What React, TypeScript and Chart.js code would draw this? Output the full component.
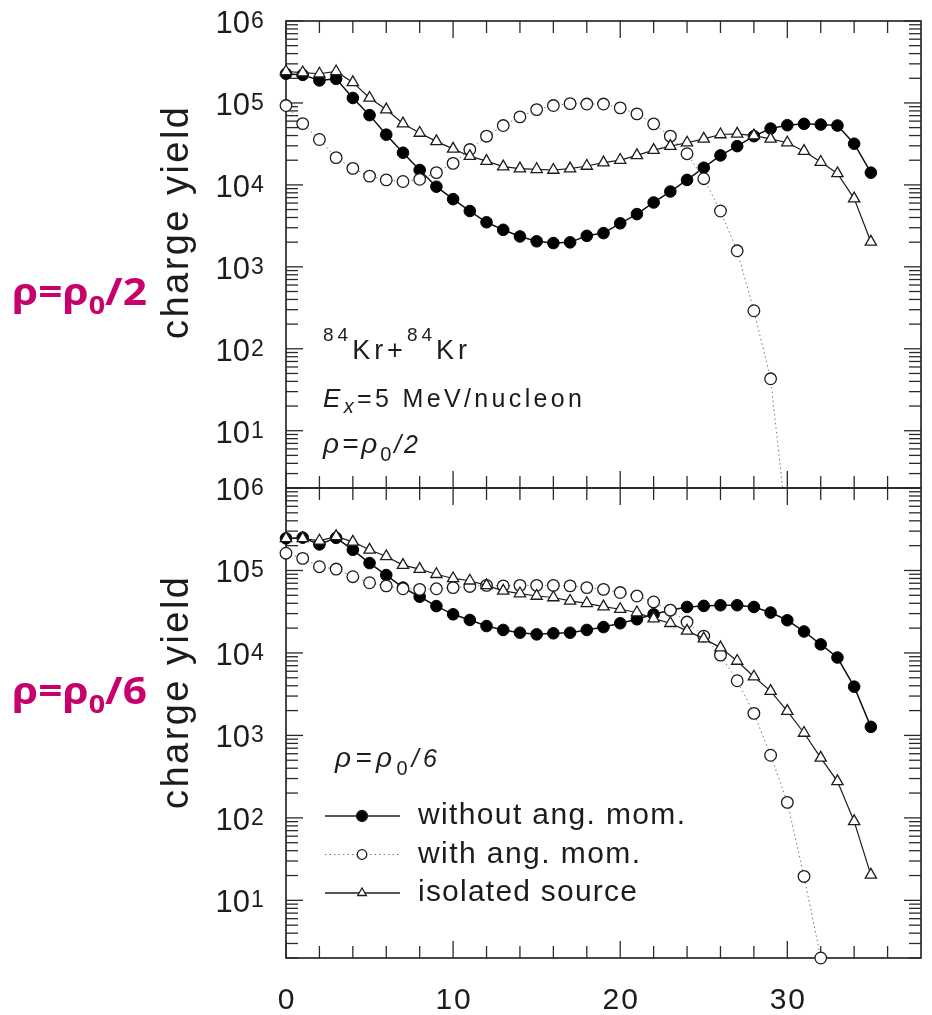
import React, { useEffect, useRef } from 'react';
import { Chart, registerables } from 'chart.js';

Chart.register(...registerables);

// ---------------- data ----------------
const chargeZ = [0, 1, 2, 3, 4, 5, 6, 7, 8, 9, 10, 11, 12, 13, 14, 15, 16, 17, 18, 19, 20, 21, 22, 23, 24, 25, 26, 27, 28, 29, 30, 31, 32, 33, 34, 35];

// rho = rho0/2 panel
const topWithoutAngMom = [2.27e5, 2.2e5, 1.88e5, 1.97e5, 1.15e5, 7.1e4, 4.1e4, 2.47e4, 1.52e4, 9.5e3, 6.7e3, 4.8e3, 3.5e3, 2.83e3, 2.35e3, 2.05e3, 1.95e3, 1.99e3, 2.39e3, 2.58e3, 3.4e3, 4.4e3, 6.1e3, 8.3e3, 1.15e4, 1.62e4, 2.29e4, 2.97e4, 3.93e4, 4.87e4, 5.35e4, 5.56e4, 5.45e4, 5.3e4, 3.18e4, 1.41e4];
const topWithAngMom = [9.3e4, 5.6e4, 3.58e4, 2.15e4, 1.59e4, 1.28e4, 1.15e4, 1.1e4, 1.17e4, 1.41e4, 1.83e4, 2.7e4, 3.93e4, 5.3e4, 6.76e4, 8.3e4, 9.3e4, 9.8e4, 9.7e4, 9.7e4, 8.7e4, 7.35e4, 5.56e4, 3.93e4, 2.4e4, 1.19e4, 4.8e3, 1.57e3, 291, 43, 0.6];
const topIsolated = [2.42e5, 2.35e5, 2.27e5, 2.42e5, 1.78e5, 1.15e5, 8.3e4, 5.6e4, 4.3e4, 3.4e4, 2.75e4, 2.24e4, 1.95e4, 1.67e4, 1.58e4, 1.55e4, 1.52e4, 1.58e4, 1.7e4, 1.87e4, 2.01e4, 2.29e4, 2.66e4, 2.97e4, 3.27e4, 3.65e4, 4.12e4, 4.2e4, 4.0e4, 3.65e4, 3.27e4, 2.58e4, 1.9e4, 1.38e4, 6.8e3, 2.02e3];

// rho = rho0/6 panel
const botWithoutAngMom = [2.45e5, 2.5e5, 2.07e5, 2.49e5, 1.78e5, 1.23e5, 8.8e4, 6.2e4, 4.8e4, 3.7e4, 2.94e4, 2.51e4, 2.12e4, 1.9e4, 1.76e4, 1.68e4, 1.73e4, 1.76e4, 1.9e4, 2.06e4, 2.29e4, 2.56e4, 2.94e4, 3.3e4, 3.61e4, 3.72e4, 3.79e4, 3.79e4, 3.61e4, 3.09e4, 2.49e4, 1.82e4, 1.27e4, 8.8e3, 3.9e3, 1.27e3];
const botWithAngMom = [1.62e5, 1.4e5, 1.11e5, 1.04e5, 8.4e4, 7.1e4, 6.5e4, 6.0e4, 5.9e4, 6.0e4, 6.2e4, 6.4e4, 6.6e4, 6.5e4, 6.6e4, 6.6e4, 6.6e4, 6.5e4, 6.2e4, 5.9e4, 5.4e4, 4.9e4, 4.15e4, 3.3e4, 2.37e4, 1.6e4, 9.4e3, 4.6e3, 1.85e3, 575, 154, 19.5, 2.0];
const botIsolated = [2.45e5, 2.45e5, 2.29e5, 2.59e5, 2.22e5, 1.78e5, 1.48e5, 1.16e5, 1.04e5, 9.0e4, 8.0e4, 7.5e4, 6.6e4, 5.65e4, 5.25e4, 4.9e4, 4.7e4, 4.27e4, 4.0e4, 3.65e4, 3.39e4, 3.09e4, 2.61e4, 2.29e4, 1.85e4, 1.49e4, 1.16e4, 7.98e3, 5.15e3, 3.44e3, 1.97e3, 1.07e3, 535, 277, 90.6, 20.4];

// ticks / labels
const xMajorTicks = [0, 10, 20, 30];
const xTickLabels = ['0', '10', '20', '30'];
const xMinorTicks = [2, 4, 6, 8, 12, 14, 16, 18, 22, 24, 26, 28, 32, 34, 36];
const yDecades = [1, 10, 100, 1000, 10000, 100000, 1000000];
const yMinorMultipliers = [2, 3, 4, 5, 6, 7, 8, 9];
const yLabelDecades = [10, 100, 1000, 10000, 100000, 1000000];
const yLabelExponents = ['1', '2', '3', '4', '5', '6'];
const seriesLabels = ['without ang. mom.', 'with ang. mom.', 'isolated source'];
const axisTitle = 'charge yield';
const X_MIN = 0;
const X_MAX = 38;
const Y_MIN = 2;
const Y_MAX = 1e6;

// ---------------- drawing helpers ----------------
const FONT = '"Liberation Sans", Arial, sans-serif';
const INK = '#1c1c1c';

type Run = { t: string; size: number; dy?: number; style?: string; family?: string };

function fontOf(r: Run) {
  return `${r.style ?? ''} ${r.size}px ${r.family ?? FONT}`;
}

function measureRuns(ctx: CanvasRenderingContext2D, runs: Run[]) {
  let w = 0;
  let n = 0;
  for (const r of runs) {
    ctx.font = fontOf(r);
    for (const ch of r.t) {
      w += ctx.measureText(ch).width;
      n++;
    }
  }
  return { w, n };
}

function drawRuns(ctx: CanvasRenderingContext2D, runs: Run[], x: number, y: number, target?: number) {
  const { w, n } = measureRuns(ctx, runs);
  const sp = target ? (target - w) / Math.max(1, n - 1) : 0;
  let cx = x;
  ctx.textAlign = 'left';
  ctx.textBaseline = 'alphabetic';
  for (const r of runs) {
    ctx.font = fontOf(r);
    for (const ch of r.t) {
      ctx.fillText(ch, cx, y + (r.dy ?? 0));
      cx += ctx.measureText(ch).width + sp;
    }
  }
}

function drawScaledRuns(ctx: CanvasRenderingContext2D, runs: Run[], x: number, y: number, target: number) {
  const { w } = measureRuns(ctx, runs);
  ctx.save();
  ctx.translate(x, y);
  ctx.scale(target / w, 1);
  drawRuns(ctx, runs, 0, 0);
  ctx.restore();
}

function seg(ctx: CanvasRenderingContext2D, x1: number, y1: number, x2: number, y2: number) {
  ctx.beginPath();
  ctx.moveTo(x1, y1);
  ctx.lineTo(x2, y2);
  ctx.stroke();
}

type Panel = {
  padTop: number;
  padBottom: number;
  without: number[];
  withAM: number[];
  isolated: number[];
  titleCenterY: number;
  clipBottom: number;
  denom: string;
  magentaBaseline: number;
  isTop: boolean;
};

const TOP: Panel = {
  padTop: 21,
  padBottom: 1015 - 488,
  without: topWithoutAngMom,
  withAM: topWithAngMom,
  isolated: topIsolated,
  titleCenterY: 223,
  clipBottom: 0,
  denom: '2',
  magentaBaseline: 305,
  isTop: true,
};

const BOTTOM: Panel = {
  padTop: 488,
  padBottom: 1015 - 958,
  without: botWithoutAngMom,
  withAM: botWithAngMom,
  isolated: botIsolated,
  titleCenterY: 693,
  clipBottom: 10,
  denom: '6',
  magentaBaseline: 704,
  isTop: false,
};

function drawLegendMarker(ctx: CanvasRenderingContext2D, kind: number, x: number, y: number) {
  ctx.save();
  ctx.lineWidth = 1.3;
  ctx.strokeStyle = INK;
  ctx.setLineDash([]);
  if (kind === 0) {
    ctx.fillStyle = '#000';
    ctx.beginPath();
    ctx.arc(x, y, 5.5, 0, Math.PI * 2);
    ctx.fill();
    ctx.stroke();
  } else if (kind === 1) {
    ctx.fillStyle = '#fff';
    ctx.beginPath();
    ctx.arc(x, y, 4.8, 0, Math.PI * 2);
    ctx.fill();
    ctx.stroke();
  } else {
    const r = 5;
    ctx.fillStyle = '#fff';
    ctx.beginPath();
    ctx.moveTo(x, y - r);
    ctx.lineTo(x + r * 0.866, y + r / 2);
    ctx.lineTo(x - r * 0.866, y + r / 2);
    ctx.closePath();
    ctx.fill();
    ctx.stroke();
  }
  ctx.restore();
}

function panelPlugin(p: Panel) {
  return {
    id: 'panelDecor',
    beforeDatasetsDraw(chart: any) {
      const { ctx, chartArea: a } = chart;
      const xs = chart.scales.x;
      const ys = chart.scales.y;
      ctx.save();
      ctx.strokeStyle = '#2a2a2a';
      ctx.lineWidth = 1.7;
      ctx.strokeRect(a.left, a.top, a.right - a.left, a.bottom - a.top);
      ctx.lineWidth = 1.3;
      for (const v of xMajorTicks) {
        const px = xs.getPixelForValue(v);
        seg(ctx, px, a.top, px, a.top + 17);
        seg(ctx, px, a.bottom, px, a.bottom - 17);
      }
      for (const v of xMinorTicks) {
        const px = xs.getPixelForValue(v);
        seg(ctx, px, a.top, px, a.top + 12);
        seg(ctx, px, a.bottom, px, a.bottom - 12);
      }
      for (const d of yDecades) {
        const major = ys.getPixelForValue(d);
        if (d >= Y_MIN && d <= Y_MAX) {
          seg(ctx, a.left, major, a.left + 17, major);
          seg(ctx, a.right, major, a.right - 17, major);
        }
        for (const m of yMinorMultipliers) {
          const v = m * d;
          if (v < Y_MIN || v > Y_MAX) continue;
          const py = ys.getPixelForValue(v);
          seg(ctx, a.left, py, a.left + 12, py);
          seg(ctx, a.right, py, a.right - 12, py);
        }
      }
      ctx.restore();
    },
    afterDatasetsDraw(chart: any) {
      const { ctx } = chart;
      const xs = chart.scales.x;
      const ys = chart.scales.y;
      ctx.save();
      ctx.fillStyle = INK;

      // y tick labels 10^n
      yLabelDecades.forEach((d, i) => {
        const py = ys.getPixelForValue(d);
        ctx.font = `31px ${FONT}`;
        ctx.textAlign = 'right';
        ctx.textBaseline = 'alphabetic';
        ctx.fillText('10', 250, py + 12);
        ctx.font = `23px ${FONT}`;
        ctx.textAlign = 'left';
        ctx.fillText(yLabelExponents[i], 251, py + 7);
      });

      // x tick labels (bottom panel only)
      if (!p.isTop) {
        xMajorTicks.forEach((v, i) => {
          const px = xs.getPixelForValue(v);
          const runs = [{ t: xTickLabels[i], size: 30 }];
          const { w, n } = measureRuns(ctx, runs);
          const target = w + 2 * (n - 1);
          drawRuns(ctx, runs, px - target / 2, 1009, n > 1 ? target : undefined);
        });
      }

      // rotated axis title
      ctx.save();
      ctx.translate(188, p.titleCenterY);
      ctx.rotate(-Math.PI / 2);
      drawRuns(ctx, [{ t: axisTitle, size: 38 }], -116, 0, 232);
      ctx.restore();

      // magenta side label
      ctx.fillStyle = '#c8006b';
      const mf = '"Noto Sans", sans-serif';
      drawScaledRuns(
        ctx,
        [
          { t: 'ρ=ρ', size: 37, style: 'bold', family: mf },
          { t: '0', size: 25, style: 'bold', family: mf, dy: 9 },
          { t: '/' + p.denom, size: 37, style: 'bold', family: mf },
        ],
        12,
        p.magentaBaseline,
        135
      );
      ctx.fillStyle = INK;

      const rhoRuns: Run[] = [
        { t: 'ρ=ρ', size: 28, style: 'italic' },
        { t: '0', size: 20, dy: 8 },
        { t: '/' + p.denom, size: 25, style: 'italic' },
      ];

      if (p.isTop) {
        drawRuns(
          ctx,
          [
            { t: '84', size: 19, dy: -18 },
            { t: 'Kr+', size: 27 },
            { t: '84', size: 19, dy: -18 },
            { t: 'Kr', size: 27 },
          ],
          323,
          359,
          144
        );
        drawRuns(
          ctx,
          [
            { t: 'E', size: 26, style: 'italic' },
            { t: 'x', size: 20, style: 'italic', dy: 6 },
            { t: '=5 MeV/nucleon', size: 25 },
          ],
          323,
          407,
          259
        );
        drawRuns(ctx, rhoRuns, 323, 453, 95);
      } else {
        drawRuns(ctx, rhoRuns, 335, 767, 102);
        // legend
        const rows = [816, 854.5, 893];
        const widths = [267, 222, 219];
        rows.forEach((ry, i) => {
          ctx.save();
          ctx.strokeStyle = i === 1 ? '#777' : INK;
          ctx.lineWidth = i === 1 ? 1 : 1.3;
          ctx.setLineDash(i === 1 ? [1.5, 3] : []);
          seg(ctx, 325, ry, 400, ry);
          ctx.restore();
          drawLegendMarker(ctx, i, 362, ry);
          ctx.fillStyle = INK;
          drawRuns(ctx, [{ t: seriesLabels[i], size: 30 }], 418, ry + 8, widths[i]);
        });
      }
      ctx.restore();
    },
  };
}

function pts(values: number[]) {
  return values.map((v, i) => ({ x: chargeZ[i], y: v }));
}

function makeChart(canvas: HTMLCanvasElement, p: Panel) {
  const clip = { left: 10, right: 10, top: 10, bottom: p.clipBottom };
  return new Chart(canvas, {
    type: 'line',
    data: {
      datasets: [
        {
          label: seriesLabels[2],
          data: pts(p.isolated),
          borderColor: INK,
          borderWidth: 1.2,
          pointStyle: 'triangle',
          pointRadius: 6.5,
          pointBackgroundColor: '#fff',
          pointBorderColor: INK,
          pointBorderWidth: 1.3,
          clip,
        },
        {
          label: seriesLabels[1],
          data: pts(p.withAM),
          borderColor: '#777',
          borderWidth: 1,
          borderDash: [1.5, 3],
          pointStyle: 'circle',
          pointRadius: 5.8,
          pointBackgroundColor: '#fff',
          pointBorderColor: INK,
          pointBorderWidth: 1.3,
          clip,
        },
        {
          label: seriesLabels[0],
          data: pts(p.without),
          borderColor: '#111',
          borderWidth: 1.5,
          pointStyle: 'circle',
          pointRadius: 5.8,
          pointBackgroundColor: '#000',
          pointBorderColor: '#000',
          pointBorderWidth: 1,
          clip,
        },
      ],
    },
    options: {
      animation: false,
      responsive: false,
      devicePixelRatio: 1,
      layout: { padding: { left: 286, right: 11, top: p.padTop, bottom: p.padBottom } },
      elements: { line: { tension: 0 } },
      scales: {
        x: { type: 'linear', min: X_MIN, max: X_MAX, display: false },
        y: { type: 'logarithmic', min: Y_MIN, max: Y_MAX, display: false },
      },
      plugins: { legend: { display: false }, tooltip: { enabled: false } },
    },
    plugins: [panelPlugin(p)],
  } as any);
}

export default function App() {
  const topRef = useRef<HTMLCanvasElement>(null);
  const botRef = useRef<HTMLCanvasElement>(null);
  useEffect(() => {
    const charts = [makeChart(topRef.current!, TOP), makeChart(botRef.current!, BOTTOM)];
    return () => charts.forEach((c) => c.destroy());
  }, []);
  const cs: React.CSSProperties = { position: 'absolute', left: 0, top: 0 };
  return (
    <div style={{ position: 'absolute', left: 0, top: 0, width: 932, height: 1015, background: '#fff' }}>
      <canvas ref={topRef} width={932} height={1015} style={cs} />
      <canvas ref={botRef} width={932} height={1015} style={cs} />
    </div>
  );
}
